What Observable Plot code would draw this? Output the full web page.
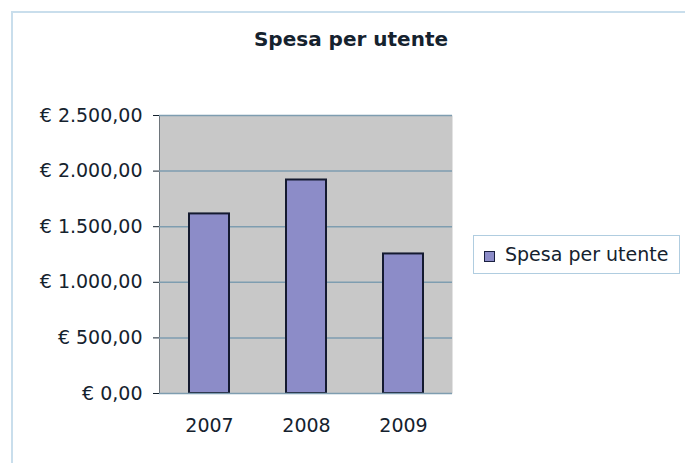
<!DOCTYPE html>
<html>
<head>
<meta charset="utf-8">
<script src="https://cdn.jsdelivr.net/npm/d3@7"></script>
<script src="https://cdn.jsdelivr.net/npm/@observablehq/plot@0.6"></script>
<style>
  html, body { margin: 0; padding: 0; background: #fff; }
  #wrap { position: relative; width: 685px; height: 463px; overflow: hidden; font-family: "DejaVu Sans", sans-serif; color: #15222e; }
  #border { position: absolute; left: 11px; top: 11px; right: -5px; bottom: -5px; border-top: 2px solid #c9deec; border-left: 2px solid #c9deec; }
  #title { position: absolute; left: 0; width: 702px; top: 27px; text-align: center; font-weight: bold; font-size: 20px; }
  #legend { position: absolute; left: 473px; top: 235px; width: 207px; height: 39px; border: 1px solid #b0cde0; box-sizing: border-box; }
  #legend .sw { position: absolute; left: 10px; top: 15px; width: 9px; height: 9px; background: #8c8cc8; border: 1px solid #1a2040; }
  #legend .lb { position: absolute; left: 31px; top: 7px; font-size: 19px; white-space: nowrap; }
  #chart { position: absolute; left: 0; top: 0; }
  #chart [aria-label="y-axis"] line, #chart [aria-label="y-axis"] path { stroke: #7e9db0; stroke-width: 1.5; }
</style>
</head>
<body>
<div id="wrap">
  <div id="border"></div>
  <div id="title">Spesa per utente</div>
  <div id="chart"></div>
  <div id="legend"><div class="sw"></div><div class="lb">Spesa per utente</div></div>
</div>
<script>
const years = ["2007", "2008", "2009"];
const spesa = [1615, 1920, 1255];
const yTicks = [0, 500, 1000, 1500, 2000, 2500];
const seriesName = "Spesa per utente";

const data = years.map((y, i) => ({year: y, value: spesa[i], series: seriesName}));
const euro = d3.formatLocale({decimal: ",", thousands: ".", grouping: [3], currency: ["€ ", ""]}).format("$,.2f");

const chart = Plot.plot({
  width: 685,
  height: 463,
  marginLeft: 159,
  marginRight: 233,
  marginTop: 115,
  marginBottom: 70,
  style: {fontFamily: "DejaVu Sans, sans-serif", fontSize: "19px", color: "#15222e", background: "transparent"},
  x: {domain: years, paddingInner: 0.59, paddingOuter: 0.295, label: null, tickSize: 0, tickPadding: 25},
  y: {domain: [0, 2500], ticks: yTicks, tickFormat: euro, label: null, tickSize: 6, tickPadding: 11, line: true},
  marks: [
    Plot.frame({fill: "#c8c8c8", stroke: null}),
    Plot.ruleY(yTicks.filter(d => d > 0), {stroke: "#7e9db0", strokeWidth: 1.5}),
    Plot.barY(data, {x: "year", y: "value", fill: "#8c8cc8", stroke: "#141a30", strokeWidth: 2}),
    Plot.ruleY([0], {stroke: "#7e9db0", strokeWidth: 1.5})
  ]
});
document.getElementById("chart").appendChild(chart);
</script>
</body>
</html>
